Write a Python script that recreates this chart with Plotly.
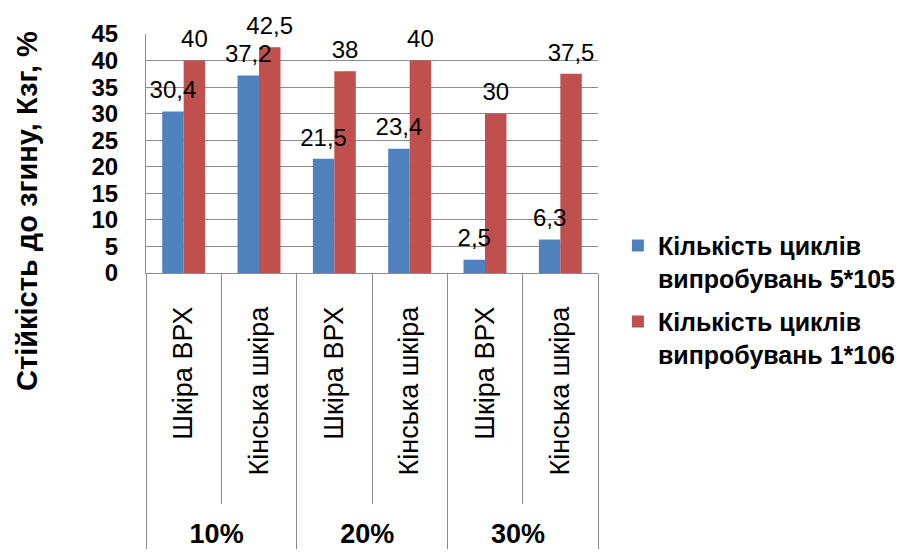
import plotly.graph_objects as go

groups = ["10%", "10%", "20%", "20%", "30%", "30%"]
materials = ["Шкіра ВРХ", "Кінська шкіра", "Шкіра ВРХ", "Кінська шкіра", "Шкіра ВРХ", "Кінська шкіра"]
series1_name = "Кількість циклів<br>випробувань 5*105"
series2_name = "Кількість циклів<br>випробувань 1*106"
series1 = [30.4, 37.2, 21.5, 23.4, 2.5, 6.3]
series2 = [40, 42.5, 38, 40, 30, 37.5]
y_ticks = [0, 5, 10, 15, 20, 25, 30, 35, 40, 45]
y_title = "Стійкість до згину, Кзг, %"

def fmt(v):
    return f"{v:g}".replace(".", ",")

PAD = "\u00a0" * 5
outer = [f"<b>{g}</b>" for g in groups]
inner = [PAD + m for m in materials]
x = [outer, inner]

FONT = "Liberation Sans, Arial, sans-serif"
GRID = "#8c8c8c"
COLORS = ["#4F81BD", "#C0504D"]

fig = go.Figure()
for name, vals, col, grp in [(series1_name, series1, COLORS[0], "a"),
                             (series2_name, series2, COLORS[1], "b")]:
    fig.add_trace(go.Bar(
        x=x, y=vals, name=name, marker=dict(color=col, line=dict(width=0)),
        legendgroup=grp,
    ))
for vals in [series1, series2]:
    fig.add_trace(go.Scatter(
        x=x, y=vals, mode="markers+text", text=[fmt(v) for v in vals],
        textposition="top center", cliponaxis=False, showlegend=False,
        marker=dict(size=10, color="rgba(0,0,0,0)"), hoverinfo="skip",
        textfont=dict(size=24, color="black", family=FONT),
    ))

fig.update_layout(
    width=908, height=554,
    margin=dict(l=146, r=310, t=34, b=281, autoexpand=False),
    paper_bgcolor="white", plot_bgcolor="white",
    font=dict(family=FONT, color="black"),
    barmode="group", bargap=0.43, bargroupgap=0,
    scattermode="group", scattergap=0.43,
    showlegend=True,
    legend=dict(
        x=1.044, y=0.21, xanchor="left", yanchor="top",
        font=dict(size=25, family=FONT, color="black", weight="bold"),
        valign="top", traceorder="grouped", tracegroupgap=8,
        bgcolor="rgba(0,0,0,0)",
    ),
    xaxis=dict(
        type="multicategory", tickangle=-90,
        tickfont=dict(size=27, family=FONT, color="black"),
        ticks="outside", ticklen=230, tickcolor=GRID, tickson="boundaries",
        showdividers=True, dividercolor=GRID, dividerwidth=1,
        showline=True, linecolor=GRID, linewidth=1,
        ticklabelstandoff=22,
        showgrid=False,
    ),
    yaxis=dict(
        range=[0, 45], tickvals=y_ticks, ticktext=[str(v) for v in y_ticks],
        tickfont=dict(size=24, family=FONT, color="black", weight="bold"),
        showgrid=True, gridcolor=GRID, gridwidth=1,
        showline=True, linecolor=GRID, linewidth=1,
        zeroline=False, ticks="", ticklabelstandoff=22,
    ),
    annotations=[dict(
        text=y_title, textangle=-90, showarrow=False,
        xref="paper", yref="paper", x=-0.263, y=0.26,
        xanchor="center", yanchor="middle",
        font=dict(size=29, family=FONT, color="black", weight="bold"),
    )],
)

fig.write_html("out.html")
